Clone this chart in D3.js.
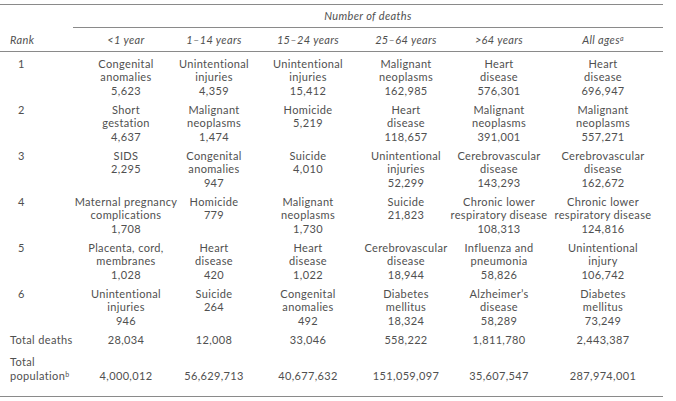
<!DOCTYPE html>
<html>
<head>
<meta charset="utf-8">
<script src="https://cdn.jsdelivr.net/npm/d3@7"></script>
<style>
  html, body { margin: 0; padding: 0; background: #fff; }
  svg { display: block; }
  text { font-family: Lato, "Open Sans", sans-serif; fill: #505050; font-size: 11px; font-weight: 400; letter-spacing: 0.35px; }
  .hdr { font-style: italic; }
  line.rule { stroke: #8a8a8a; stroke-width: 1; }
</style>
</head>
<body>
<svg id="chart" width="676" height="401"></svg>
<script>
const ageGroups = ["<1 year", "1\u201314 years", "15\u201324 years", "25\u201364 years", ">64 years", "All ages"];
const ranks = [1, 2, 3, 4, 5, 6];
const causes = [
  [["Congenital", "anomalies"], ["Unintentional", "injuries"], ["Unintentional", "injuries"], ["Malignant", "neoplasms"], ["Heart", "disease"], ["Heart", "disease"]],
  [["Short", "gestation"], ["Malignant", "neoplasms"], ["Homicide"], ["Heart", "disease"], ["Malignant", "neoplasms"], ["Malignant", "neoplasms"]],
  [["SIDS"], ["Congenital", "anomalies"], ["Suicide"], ["Unintentional", "injuries"], ["Cerebrovascular", "disease"], ["Cerebrovascular", "disease"]],
  [["Maternal pregnancy", "complications"], ["Homicide"], ["Malignant", "neoplasms"], ["Suicide"], ["Chronic lower", "respiratory disease"], ["Chronic lower", "respiratory disease"]],
  [["Placenta, cord,", "membranes"], ["Heart", "disease"], ["Heart", "disease"], ["Cerebrovascular", "disease"], ["Influenza and", "pneumonia"], ["Unintentional", "injury"]],
  [["Unintentional", "injuries"], ["Suicide"], ["Congenital", "anomalies"], ["Diabetes", "mellitus"], ["Alzheimer\u2019s", "disease"], ["Diabetes", "mellitus"]]
];
const deaths = [
  [5623, 4359, 15412, 162985, 576301, 696947],
  [4637, 1474, 5219, 118657, 391001, 557271],
  [2295, 947, 4010, 52299, 143293, 162672],
  [1708, 779, 1730, 21823, 108313, 124816],
  [1028, 420, 1022, 18944, 58826, 106742],
  [946, 264, 492, 18324, 58289, 73249]
];
const totalDeaths = [28034, 12008, 33046, 558222, 1811780, 2443387];
const totalPopulation = [4000012, 56629713, 40677632, 151059097, 35607547, 287974001];

const svg = d3.select("#chart");
const fmt = d3.format(",");
const lineH = 13.4;

const x = d3.scaleOrdinal().domain(ageGroups).range([126, 214, 308, 406, 499, 603]);
const y = d3.scaleLinear().domain([1, 6]).range([64, 294]);

const leftX = 10, rankX = 18, tableR = 663, groupL = 73;

// rules
const rules = [[0, tableR, 4.5], [groupL, tableR, 27.5], [0, tableR, 51.5], [0, tableR, 396.5]];
svg.selectAll("line.rule").data(rules).join("line").attr("class", "rule")
  .attr("x1", d => d[0]).attr("x2", d => d[1]).attr("y1", d => d[2]).attr("y2", d => d[2]);

// group header
svg.append("text").attr("class", "hdr").attr("x", (groupL + tableR) / 2).attr("y", 16).attr("dy", "0.35em")
  .attr("text-anchor", "middle").text("Number of deaths");

// column headers
svg.append("text").attr("class", "hdr").attr("x", leftX).attr("y", 40).attr("dy", "0.35em").text("Rank");
const hdr = svg.selectAll("text.col").data(ageGroups).join("text").attr("class", "hdr col")
  .attr("x", d => x(d)).attr("y", 40).attr("dy", "0.35em").attr("text-anchor", "middle")
  .text(d => d);
hdr.filter(d => d === "All ages").append("tspan").attr("dy", "-0.4em").style("font-size", "7px").text("a");

// rank labels
svg.selectAll("text.rank").data(ranks).join("text").attr("class", "rank")
  .attr("x", rankX).attr("y", d => y(d)).attr("dy", "0.35em").text(d => d);

// cells
ranks.forEach((r, ri) => {
  ageGroups.forEach((g, gi) => {
    const lines = causes[ri][gi].concat([fmt(deaths[ri][gi])]);
    svg.append("g").selectAll("text").data(lines).join("text")
      .attr("x", x(g)).attr("y", (d, i) => y(r) + i * lineH).attr("dy", "0.35em")
      .attr("text-anchor", "middle").text(d => d);
  });
});

// totals
const yTot = y(6) + 46;
svg.append("text").attr("x", leftX).attr("y", yTot).attr("dy", "0.35em").text("Total deaths");
svg.selectAll("text.tot").data(totalDeaths).join("text").attr("class", "tot")
  .attr("x", (d, i) => x(ageGroups[i])).attr("y", yTot).attr("dy", "0.35em").attr("text-anchor", "middle")
  .text(d => fmt(d));

const yPop = yTot + 36;
svg.append("text").attr("x", leftX).attr("y", yPop - lineH).attr("dy", "0.35em").text("Total");
const popLbl = svg.append("text").attr("x", leftX).attr("y", yPop).attr("dy", "0.35em").text("population");
popLbl.append("tspan").attr("dy", "-0.4em").style("font-size", "7px").text("b");
svg.selectAll("text.pop").data(totalPopulation).join("text").attr("class", "pop")
  .attr("x", (d, i) => x(ageGroups[i])).attr("y", yPop).attr("dy", "0.35em").attr("text-anchor", "middle")
  .text(d => fmt(d));
</script>
</body>
</html>
